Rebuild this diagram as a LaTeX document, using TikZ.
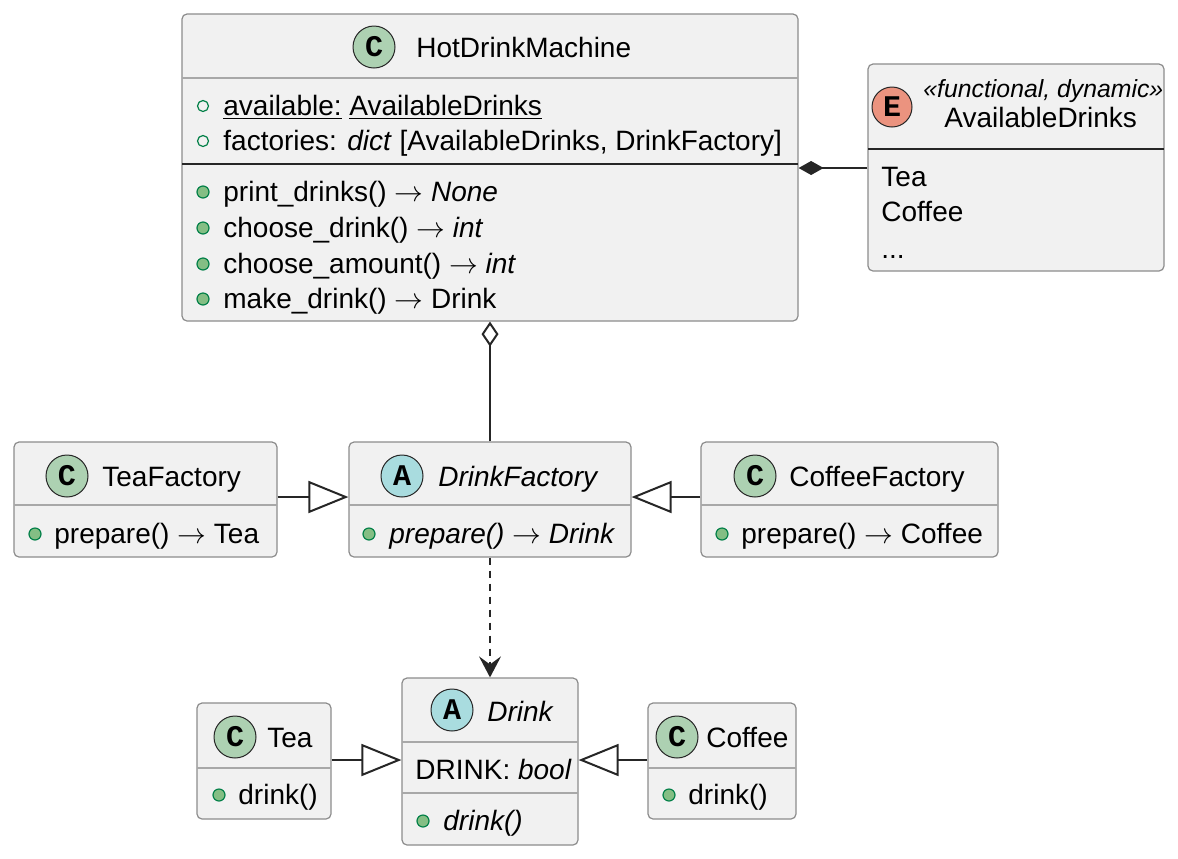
\documentclass[tikz,border=0pt]{standalone}
\usepackage{fontspec}
\setmainfont{Liberation Sans}
\newfontfamily\circfont{Liberation Mono}
\usetikzlibrary{arrows.meta,fit}
\definecolor{boxfill}{HTML}{F1F1F1}
\definecolor{boxline}{HTML}{8C8C8C}
\definecolor{cC}{HTML}{ADD1B2}
\definecolor{cA}{HTML}{A9DCDF}
\definecolor{cE}{HTML}{EB937F}
\definecolor{visline}{HTML}{038048}
\definecolor{visfill}{HTML}{84BE84}
\definecolor{sepgray}{HTML}{A8A8A8}
\definecolor{sepdark}{HTML}{262626}
\begin{document}
\begin{tikzpicture}[x=0.5pt,y=-0.5pt,
  box/.style={draw=boxline, fill=boxfill, rounded corners=2.5pt, line width=0.6pt, inner sep=0pt},
  circ/.style={circle, draw=sepdark, line width=0.5pt, minimum size=21pt, inner sep=0pt, font=\circfont\bfseries\fontsize{15}{15}\selectfont},
  ecirc/.style={circ, minimum size=20pt},
  txt/.style={anchor=base west, inner sep=0pt, font=\fontsize{14}{16}\selectfont},
  stereo/.style={anchor=base west, inner sep=0pt, font=\itshape\fontsize{12.4}{14}\selectfont},
  field/.style={circle, draw=visline, line width=0.6pt, minimum size=5.5pt, inner sep=0pt},
  meth/.style={field, fill=visfill, minimum size=6pt},
  sepg/.style={draw=sepgray, line width=0.6pt},
  sepd/.style={draw=sepdark, line width=0.6pt},
  conn/.style={line width=1pt, draw=sepdark}]
\useasboundingbox (0,0) rectangle (1178,858);

% ---------- HotDrinkMachine ----------
\node[box, fit={(182,14) (798,321)}] (hdm) {};
\draw[sepg] (182,78) -- (798,78);
\draw[sepd] (182,164) -- (798,164);
\node[circ, fill=cC] (hdmC) at (374,47) {C};
\node[txt] (hdmT) at (416,57) {HotDrinkMachine};
\node[field] (hdmf1) at (203,106) {};
\node[txt] (hdma1) at (223,115) {\underline{available:} \underline{AvailableDrinks}};
\node[field] (hdmf2) at (203,141) {};
\node[txt] (hdma2) at (223,150) {factories: \textit{dict} [AvailableDrinks, DrinkFactory]};
\node[meth] (hdmm1) at (203,192) {};
\node[txt] (hdmo1) at (223,201) {print\_drinks() $\rightarrow$ \textit{None}};
\node[meth] (hdmm2) at (203,228) {};
\node[txt] (hdmo2) at (223,237) {choose\_drink() $\rightarrow$ \textit{int}};
\node[meth] (hdmm3) at (203,264) {};
\node[txt] (hdmo3) at (223,273) {choose\_amount() $\rightarrow$ \textit{int}};
\node[meth] (hdmm4) at (203,299) {};
\node[txt] (hdmo4) at (223,308) {make\_drink() $\rightarrow$ Drink};

% ---------- AvailableDrinks ----------
\node[box, fit={(868,64) (1164,271)}] (avd) {};
\draw[sepd] (868,149) -- (1164,149);
\node[ecirc, fill=cE] (avdE) at (892,107) {E};
\node[stereo] (avdS) at (923,97) {«functional, dynamic»};
\node[txt] (avdT) at (944,127) {AvailableDrinks};
\node[txt] (avd1) at (881,186) {Tea};
\node[txt] (avd2) at (881,221) {Coffee};
\node[txt] (avd3) at (881,258) {...};

% ---------- TeaFactory ----------
\node[box, fit={(14,442) (277,557)}] (tf) {};
\draw[sepg] (14,505) -- (277,505);
\node[circ, fill=cC] (tfC) at (67,476) {C};
\node[txt] (tfT) at (102,486) {TeaFactory};
\node[meth] (tfm) at (35,534) {};
\node[txt] (tfo) at (54,543) {prepare() $\rightarrow$ Tea};

% ---------- DrinkFactory ----------
\node[box, fit={(349,442) (631,557)}] (df) {};
\draw[sepg] (349,505) -- (631,505);
\node[circ, fill=cA] (dfA) at (402,476) {A};
\node[txt] (dfT) at (438,486) {\itshape DrinkFactory};
\node[meth] (dfm) at (369,534) {};
\node[txt] (dfo) at (389,543) {\itshape prepare() $\rightarrow$ Drink};

% ---------- CoffeeFactory ----------
\node[box, fit={(701,442) (998,557)}] (cf) {};
\draw[sepg] (701,505) -- (998,505);
\node[circ, fill=cC] (cfC) at (755,476) {C};
\node[txt] (cfT) at (789,486) {CoffeeFactory};
\node[meth] (cfm) at (722,534) {};
\node[txt] (cfo) at (741,543) {prepare() $\rightarrow$ Coffee};

% ---------- Drink ----------
\node[box, fit={(402,678) (578,845)}] (dr) {};
\draw[sepg] (402,742) -- (578,742);
\draw[sepg] (402,793) -- (578,793);
\node[circ, fill=cA] (drA) at (452,710) {A};
\node[txt] (drT) at (487,721) {\itshape Drink};
\node[txt] (dra) at (415,779) {DRINK: \textit{bool}};
\node[meth] (drm) at (423,821) {};
\node[txt] (dro) at (443,830) {\itshape drink()};

% ---------- Tea ----------
\node[box, fit={(197,703) (331,819)}] (tea) {};
\draw[sepg] (197,768) -- (331,768);
\node[circ, fill=cC] (teaC) at (235,737) {C};
\node[txt] (teaT) at (267,747) {Tea};
\node[meth] (team) at (219,795) {};
\node[txt] (teao) at (238,804) {drink()};

% ---------- Coffee ----------
\node[box, fit={(648,703) (796,819)}] (cof) {};
\draw[sepg] (648,768) -- (796,768);
\node[circ, fill=cC] (cofC) at (677,737) {C};
\node[txt] (cofT) at (706,747) {Coffee};
\node[meth] (cofm) at (669,795) {};
\node[txt] (cofo) at (688,804) {drink()};

% ---------- connectors ----------
\coordinate (rowA) at (0,168);
\coordinate (rowF) at (0,497);
\coordinate (rowD) at (0,760);
\draw[conn, -{Diamond[length=12.5pt,width=7pt]}] (avd.west |- rowA) -- (hdm.east |- rowA);
\draw[conn, -{Diamond[length=12.5pt,width=8.5pt,fill=white]}] (df.north) -- (hdm.south);
\draw[conn, -{Triangle[length=20pt,width=16pt,fill=white]}] (tf.east |- rowF) -- (df.west |- rowF);
\draw[conn, -{Triangle[length=20pt,width=16pt,fill=white]}] (cf.west |- rowF) -- (df.east |- rowF);
\draw[conn, dash pattern=on 3.5pt off 3pt, -{Stealth[length=10.5pt,width=11pt,inset=4pt]}] (df.south) -- (dr.north);
\draw[conn, -{Triangle[length=20pt,width=16pt,fill=white]}] (tea.east |- rowD) -- (dr.west |- rowD);
\draw[conn, -{Triangle[length=20pt,width=16pt,fill=white]}] (cof.west |- rowD) -- (dr.east |- rowD);
\end{tikzpicture}
\end{document}
